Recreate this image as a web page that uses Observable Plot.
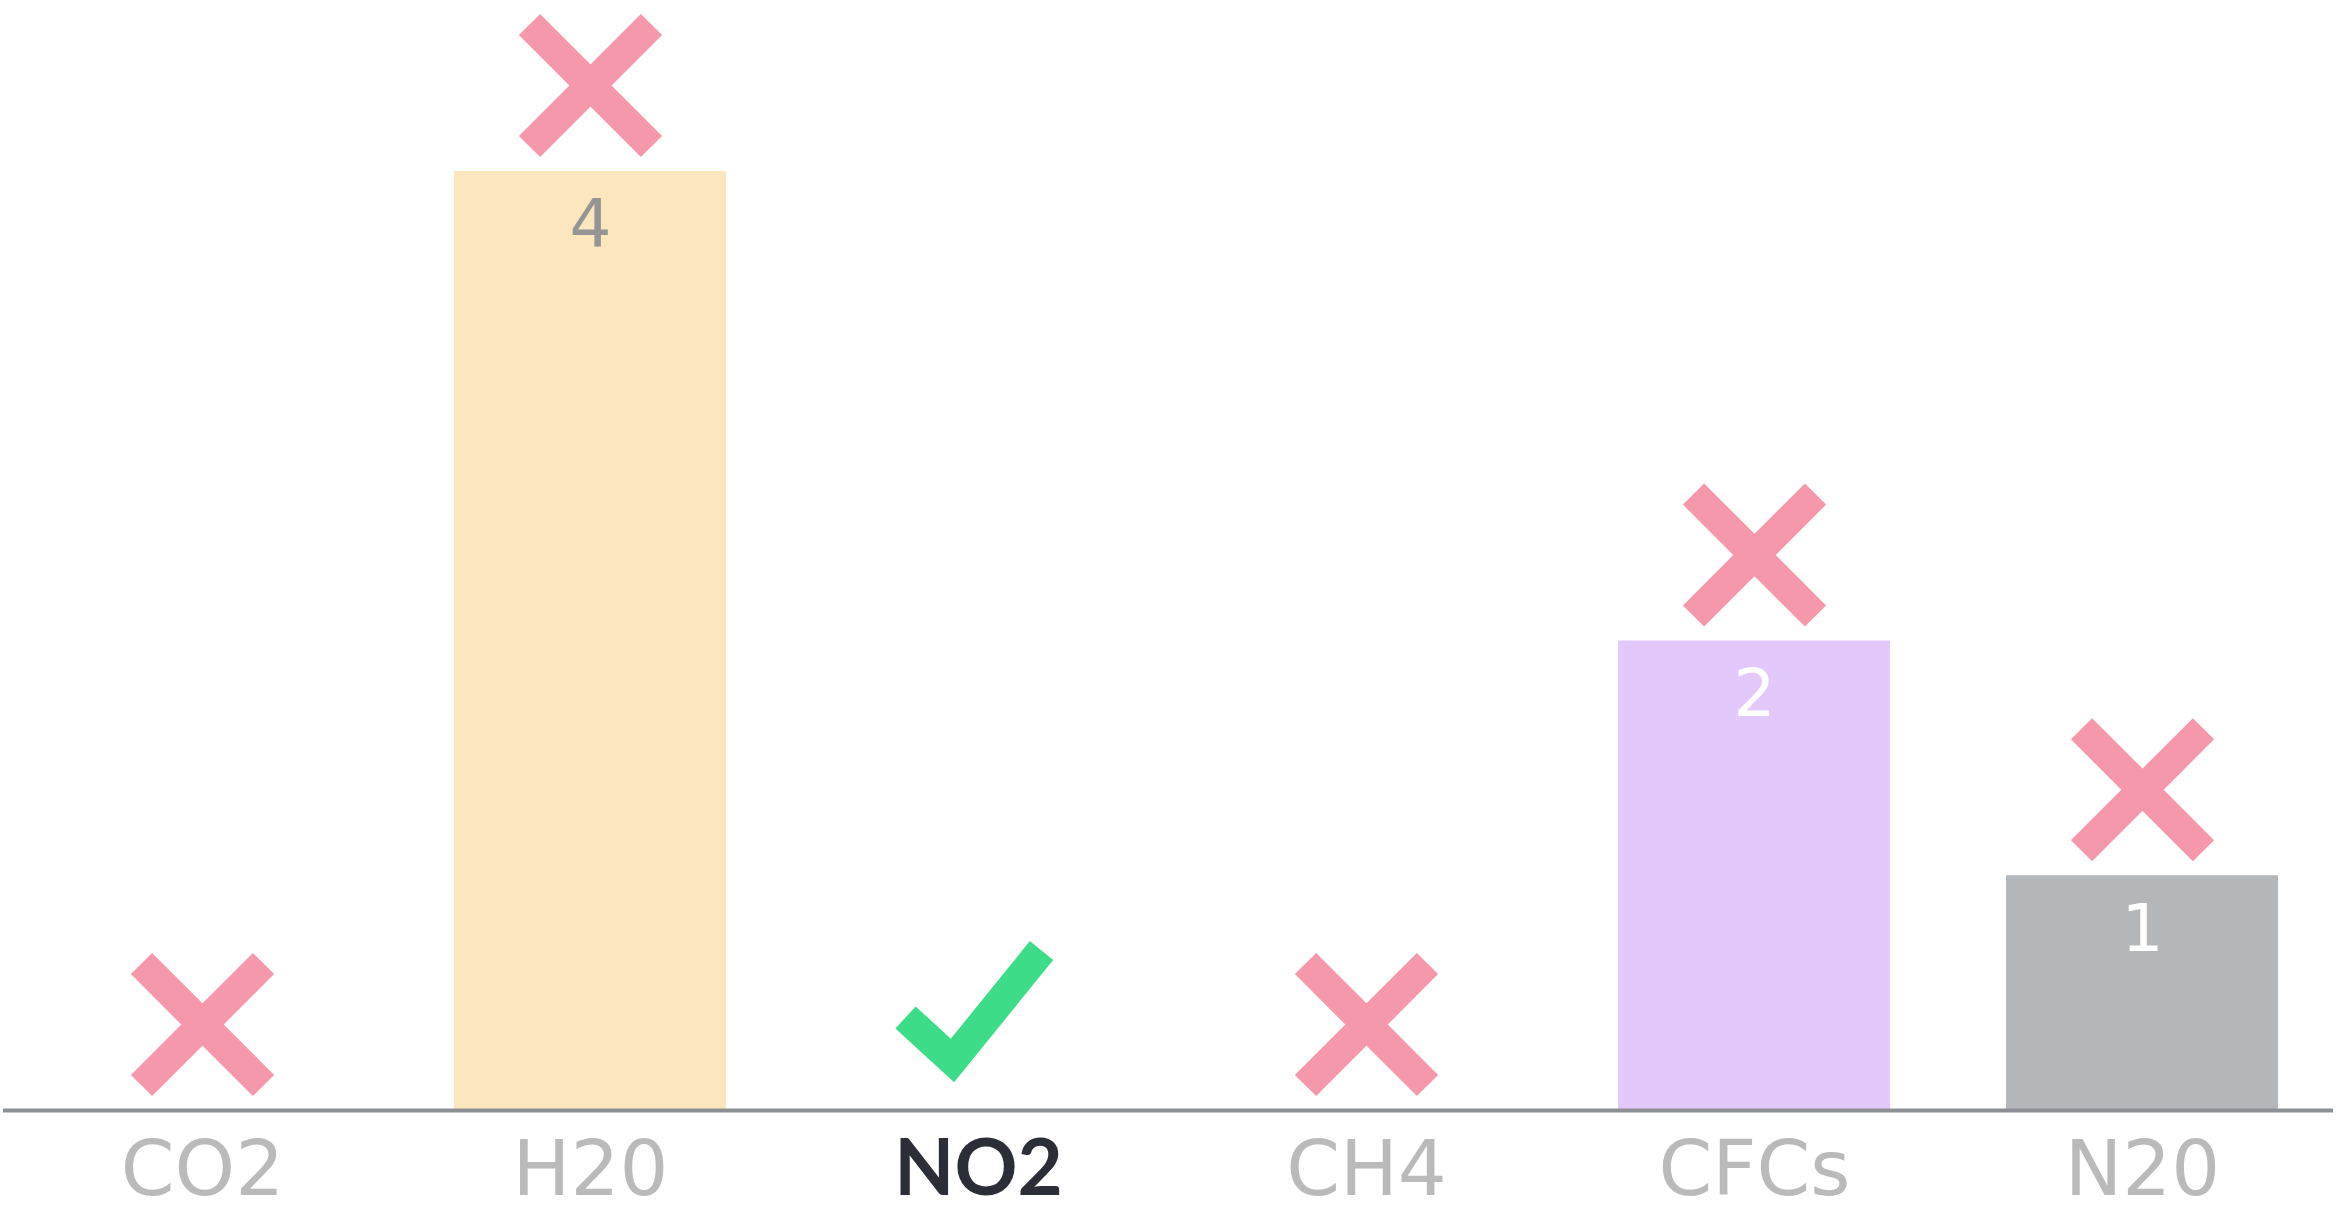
<!DOCTYPE html>
<html>
<head>
<meta charset="utf-8">
<script src="https://cdn.jsdelivr.net/npm/d3@7"></script>
<script src="https://cdn.jsdelivr.net/npm/@observablehq/plot@0.6"></script>
<style>
  html, body { margin: 0; padding: 0; background: #ffffff; }
  #chart svg { display: block; }
</style>
</head>
<body>
<div id="chart"></div>
<script>
// ---- data ----
const gases  = ["CO2", "H20", "NO2", "CH4", "CFCs", "N20"];
const counts = [0, 4, 0, 0, 2, 1];
const status = ["wrong", "wrong", "right", "wrong", "wrong", "wrong"];

// ---- styles ----
const barColors   = ["#e6e6e6", "#fbe6bd", "#e6e6e6", "#e6e6e6", "#e3c8fc", "#b4b7ba"];
const valueColors = ["#ffffff", "#959595", "#ffffff", "#ffffff", "#ffffff", "#ffffff"];
const pink = "#f598ac";
const green = "#3ddc88";

const data = gases.map((g, i) => ({gas: g, value: counts[i], status: status[i]}));

// custom stroke-drawn symbols
const crossSymbol = {
  draw(ctx) {
    const r = 61;
    ctx.moveTo(-r, -r); ctx.lineTo(r, r);
    ctx.moveTo(-r, r); ctx.lineTo(r, -r);
  }
};
const checkSymbol = {
  draw(ctx) {
    ctx.moveTo(-70, 6);
    ctx.lineTo(-23, 49);
    ctx.lineTo(66, -61);
  }
};

const chart = Plot.plot({
  width: 2337,
  height: 1211,
  marginTop: 171,
  marginBottom: 101,
  marginLeft: 6,
  marginRight: 0,
  style: {background: "#ffffff", overflow: "visible"},
  x: {domain: gases, paddingInner: 0.3, paddingOuter: 0.15, axis: null},
  y: {domain: [0, 4], axis: null},
  color: {type: "identity"},
  marks: [
    Plot.barY(data, {
      x: "gas",
      y: "value",
      fill: d => barColors[gases.indexOf(d.gas)]
    }),
    Plot.ruleY([0], {stroke: "#8c8f93", strokeWidth: 4, insetLeft: -3, insetRight: 4}),
    Plot.text(data.filter(d => d.value > 0), {
      x: "gas",
      y: "value",
      text: d => String(d.value),
      fill: d => valueColors[gases.indexOf(d.gas)],
      lineAnchor: "top",
      dy: 28,
      fontSize: 66,
      fontFamily: "DejaVu Sans",
      fontWeight: 400
    }),
    Plot.dot(data.filter(d => d.status === "wrong"), {
      x: "gas",
      y: "value",
      dy: -86,
      symbol: crossSymbol,
      fill: "none",
      stroke: pink,
      strokeWidth: 30,
      strokeLinecap: "butt"
    }),
    Plot.dot(data.filter(d => d.status === "right"), {
      x: "gas",
      y: "value",
      dy: -99,
      dx: -3,
      symbol: checkSymbol,
      fill: "none",
      stroke: green,
      strokeWidth: 30,
      strokeLinecap: "butt",
      strokeLinejoin: "miter"
    }),
    Plot.text(data.filter(d => d.status !== "right"), {
      x: "gas",
      frameAnchor: "bottom",
      text: "gas",
      lineAnchor: "bottom",
      dy: 84,
      fontSize: 77,
      fontFamily: "DejaVu Sans",
      fontWeight: 400,
      fill: "#bababa"
    }),
    Plot.text(data.filter(d => d.status === "right"), {
      x: "gas",
      frameAnchor: "bottom",
      text: "gas",
      lineAnchor: "bottom",
      dy: 84,
      fontSize: 78,
      fontFamily: "Lato",
      fontWeight: 700,
      fill: "#2b2e36"
    })
  ]
});

document.getElementById("chart").appendChild(chart);
</script>
</body>
</html>
